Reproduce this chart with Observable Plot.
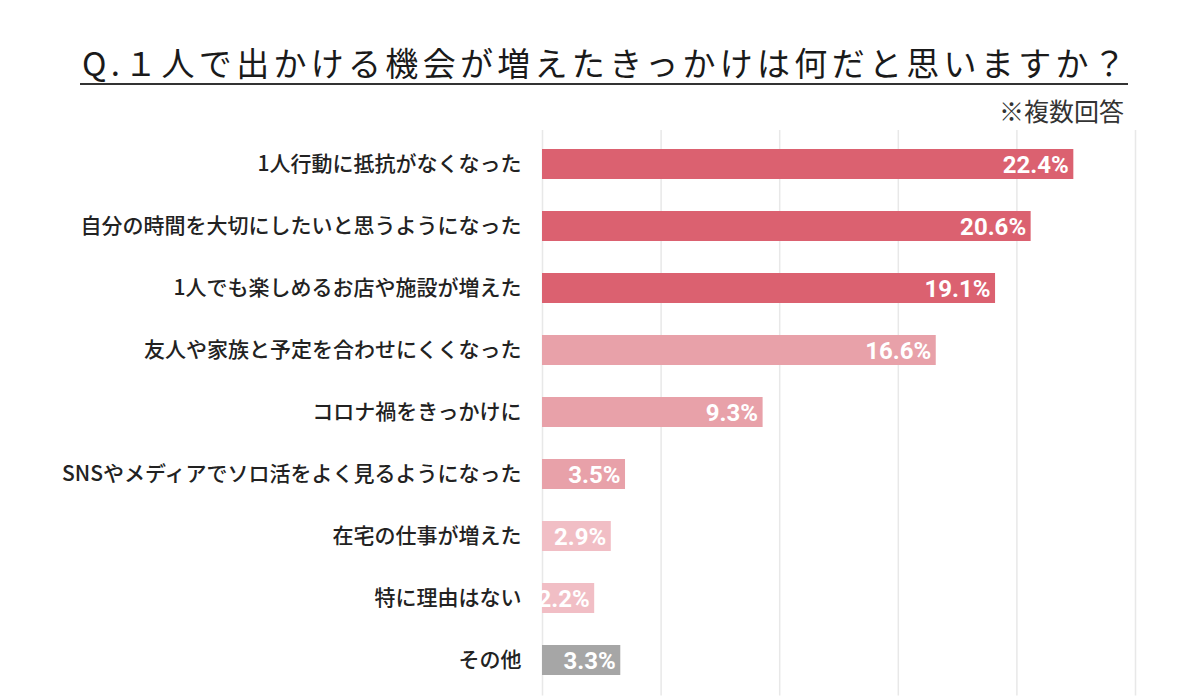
<!DOCTYPE html>
<html lang="ja">
<head>
<meta charset="utf-8">
<script src="https://cdn.jsdelivr.net/npm/d3@7"></script>
<script src="https://cdn.jsdelivr.net/npm/@observablehq/plot@0.6"></script>
<style>
  html, body { margin: 0; padding: 0; background: #fff; }
  #chart { width: 1200px; height: 700px; position: relative; }
  #header { display: block; }
  #plot svg { display: block; }
</style>
</head>
<body>
<div id="chart">
  <div id="header"></div>
  <div id="plot"></div>
</div>
<script>
// Survey question and note
const titleText = "Q.１人で出かける機会が増えたきっかけは何だと思いますか？";
const noteText = "※複数回答";

// Answers (top to bottom) and share of respondents, %
const categories = [
  "1人行動に抵抗がなくなった",
  "自分の時間を大切にしたいと思うようになった",
  "1人でも楽しめるお店や施設が増えた",
  "友人や家族と予定を合わせにくくなった",
  "コロナ禍をきっかけに",
  "SNSやメディアでソロ活をよく見るようになった",
  "在宅の仕事が増えた",
  "特に理由はない",
  "その他"
];
const values = [22.4, 20.6, 19.1, 16.6, 9.3, 3.5, 2.9, 2.2, 3.3];
const tiers = ["上位", "上位", "上位", "中位", "中位", "中位", "下位", "下位", "その他"];
const xTicks = [0, 5, 10, 15, 20, 25];

const rows = categories.map((label, i) => ({label, value: values[i], tier: tiers[i]}));

const jpFont = "'Noto Sans CJK JP', 'Noto Sans', sans-serif";

// Header: underlined question and the multiple-answer note
const header = d3.select("#header").append("svg")
  .attr("width", 1200).attr("height", 130)
  .style("display", "block");

header.append("text")
  .attr("x", 82).attr("y", 76)
  .attr("font-family", jpFont)
  .attr("font-size", 33)
  .attr("font-weight", 400)
  .attr("letter-spacing", 4.3)
  .attr("fill", "#1a1a1a")
  .text(titleText);

header.append("line")
  .attr("x1", 80).attr("x2", 1128)
  .attr("y1", 84).attr("y2", 84)
  .attr("stroke", "#333").attr("stroke-width", 2);

header.append("text")
  .attr("x", 1124).attr("y", 121)
  .attr("text-anchor", "end")
  .attr("font-family", jpFont)
  .attr("font-size", 25)
  .attr("font-weight", 400)
  .attr("fill", "#333")
  .text(noteText);

// Horizontal bar chart
const chart = Plot.plot({
  width: 1200,
  height: 570,
  marginTop: 0.8,
  marginBottom: 7.6,
  marginLeft: 542,
  marginRight: 65,
  style: {fontFamily: jpFont, background: "#fff"},
  x: {domain: [0, 25], axis: null},
  y: {domain: categories, paddingInner: 0.52, paddingOuter: 0.26, label: null},
  color: {
    domain: ["上位", "中位", "下位", "その他"],
    range: ["#db6170", "#e8a1a9", "#f1bec5", "#a6a6a6"]
  },
  marks: [
    Plot.ruleX(xTicks, {stroke: "#e8e8e8", strokeWidth: 1.5, insetTop: -1, insetBottom: -3}),
    Plot.barX(rows, {x: "value", y: "label", fill: "tier"}),
    Plot.text(rows, {
      x: "value", y: "label",
      text: d => d.value.toFixed(1) + "%",
      textAnchor: "end", dx: -5, dy: 1,
      fill: "white", fontSize: 24, fontWeight: 700,
      fontFamily: "Roboto, 'Liberation Sans', sans-serif"
    }),
    Plot.axisY({
      tickSize: 0, tickPadding: 21, fontSize: 21, fontWeight: 500,
      color: "#222", label: null
    })
  ]
});
document.getElementById("plot").appendChild(chart);
</script>
</body>
</html>
